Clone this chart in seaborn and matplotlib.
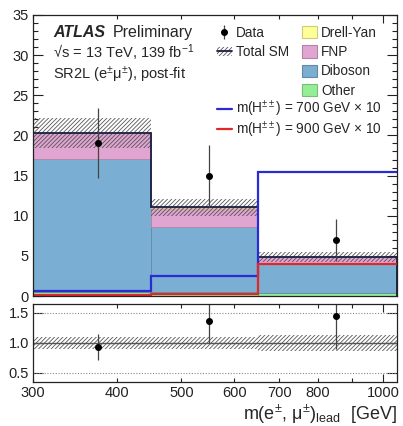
import numpy as np
import pandas as pd
import matplotlib
matplotlib.use('Agg')
import matplotlib.pyplot as plt
import seaborn as sns
from matplotlib.patches import Patch
from matplotlib.lines import Line2D
from matplotlib.ticker import FixedLocator, FixedFormatter, MultipleLocator, NullFormatter

sns.set_theme(style='ticks')
plt.rcParams['font.family'] = ['Liberation Sans', 'DejaVu Sans']
plt.rcParams['mathtext.fontset'] = 'custom'
plt.rcParams['mathtext.rm'] = 'Liberation Sans'
plt.rcParams['mathtext.it'] = 'Liberation Sans:italic'
plt.rcParams['mathtext.bf'] = 'Liberation Sans:bold'
plt.rcParams['hatch.linewidth'] = 0.6

# --- values ---
bin_edges = [300, 450, 650, 1050]
bin_centres = [375, 550, 850]
processes = ['Drell-Yan', 'FNP', 'Diboson', 'Other']
drell_yan = [0.05, 0.04, 0.02]
fnp = [3.15, 2.4, 0.83]
diboson = [16.55, 8.1, 3.65]
other = [0.55, 0.5, 0.35]
sm_unc = [1.9, 1.1, 0.65]
data = [19, 15, 7]
data_unc = [4.36, 3.87, 2.65]
sig_700 = [0.65, 2.5, 15.4]
sig_900 = [0.08, 0.25, 4.0]
x_tick_values = [300, 400, 500, 600, 700, 800, 900]
x_tick_labels = ['300', '400', '500', '600', '700', '800', '']

colours = {'Drell-Yan': '#ffff99', 'FNP': '#e1a5d2', 'Diboson': '#7aaed2', 'Other': '#95ee95'}
sm_col = '#1c1c44'
hatch_col = '#555555'
blue = '#2b2bd6'
red = '#e02828'

df = pd.DataFrame({'mass': bin_centres * 4,
                   'yield': drell_yan + fnp + diboson + other,
                   'process': np.repeat(processes, 3)})

fig = plt.figure(figsize=(4.03, 4.26), dpi=100)
ax = fig.add_axes([33/403, 1-296/426, 364/403, 281/426])
rax = fig.add_axes([33/403, 1-382/426, 364/403, 78/426])

sns.histplot(data=df, x='mass', weights='yield', hue='process', hue_order=processes,
             multiple='stack', bins=bin_edges, palette=colours, alpha=1,
             linewidth=0.6, legend=False, ax=ax)
for p in ax.patches:
    r, g, b, a = p.get_facecolor()
    p.set_edgecolor((r*0.8, g*0.8, b*0.8, 1))

edges = np.array(bin_edges)
widths = np.diff(edges)
total = np.sum([drell_yan, fnp, diboson, other], axis=0)
unc = np.array(sm_unc)

hatch = '////////'
ax.bar(edges[:-1], 2*unc, width=widths, bottom=total-unc, align='edge', fill=False,
       hatch=hatch, edgecolor=hatch_col, linewidth=0)
ax.stairs(total, edges, baseline=0, color=sm_col, lw=1.3)
ax.stairs(sig_700, edges, baseline=None, color=blue, lw=1.6)
ax.stairs(sig_900, edges, baseline=None, color=red, lw=1.6)
data_h = ax.errorbar(bin_centres, data, yerr=data_unc, fmt='o', color='black', ms=4,
                     ecolor='#444444', elinewidth=0.9, capsize=0)

# ratio panel
ratio = np.array(data) / total
ratio_unc = np.array(data_unc) / total
rel_unc = unc / total
rax.bar(edges[:-1], 2*rel_unc, width=widths, bottom=1-rel_unc, align='edge', fill=False,
        hatch=hatch, edgecolor=hatch_col, linewidth=0)
rax.axhline(1.0, color='#555555', lw=1)
for yv in (0.5, 1.5):
    rax.axhline(yv, color='#888888', lw=0.8, ls=(0, (1, 1.5)))
rax.errorbar(bin_centres, ratio, yerr=ratio_unc, fmt='o', color='black', ms=4,
             ecolor='#444444', elinewidth=0.9, capsize=0)

for a in (ax, rax):
    a.set_xscale('log')
    a.set_xlim(300, 1050)
    a.xaxis.set_major_locator(FixedLocator([1000]))
    a.xaxis.set_minor_locator(FixedLocator(x_tick_values))
    a.tick_params(which='both', direction='in', top=True, right=True, colors='#222222',
                  labelsize=10.5, width=0.8, pad=3)
    a.tick_params(axis='x', which='major', length=6)
    a.tick_params(axis='x', which='minor', length=3)
    a.tick_params(axis='y', which='major', length=7)
    a.tick_params(axis='y', which='minor', length=3.5)
    for s in a.spines.values():
        s.set_color('#222222')
        s.set_linewidth(0.9)
    a.set_ylabel('')
    a.set_xlabel('')

ax.set_ylim(0, 35)
ax.yaxis.set_major_locator(MultipleLocator(5))
ax.yaxis.set_minor_locator(MultipleLocator(1))
ax.tick_params(which='both', labelbottom=False)
ax.xaxis.set_major_formatter(NullFormatter())
ax.xaxis.set_minor_formatter(NullFormatter())

rax.set_ylim(0.35, 1.65)
rax.yaxis.set_major_locator(FixedLocator([0.5, 1.0, 1.5]))
rax.yaxis.set_major_formatter(FixedFormatter(['0.5', '1.0', '1.5']))
rax.xaxis.set_major_formatter(FixedFormatter(['1000']))
rax.xaxis.set_minor_formatter(FixedFormatter(x_tick_labels))
rax.set_xlabel('m(e$^{\\pm}$, μ$^{\\pm}$)$_{\\mathregular{lead}}$  [GeV]', loc='right',
               fontsize=13, labelpad=2)

# labels
fs = 11.5
fig.text(53/403, 1-37/426, 'ATLAS', fontsize=fs, fontweight='bold', fontstyle='italic', va='baseline')
fig.text(113/403, 1-37/426, 'Preliminary', fontsize=fs, va='baseline')
fig.text(53/403, 1-58/426, '√s = 13 TeV, 139 fb$^{-1}$', fontsize=10.5, va='baseline')
fig.text(53/403, 1-79/426, 'SR2L (e$^{\\pm}$μ$^{\\pm}$), post-fit', fontsize=10.5, va='baseline')

# legends
lfs = 9.8
common = dict(loc='upper left', bbox_transform=fig.transFigure, frameon=False, borderpad=0,
              borderaxespad=0, handlelength=1.1, handletextpad=0.3, fontsize=lfs)
sm_h = (Patch(facecolor='white', edgecolor=hatch_col, hatch=hatch, lw=0),
        Line2D([], [], color=sm_col, lw=1.3))
leg1 = ax.legend([data_h, sm_h], ['Data', 'Total SM'], bbox_to_anchor=(217/403, 1-26/426),
                 labelspacing=0.38, **common)
ax.add_artist(leg1)
leg3 = ax.legend([Line2D([], [], color=blue, lw=1.6), Line2D([], [], color=red, lw=1.6)],
                 ['m(H$^{\\pm\\pm}$) = 700 GeV × 10', 'm(H$^{\\pm\\pm}$) = 900 GeV × 10'],
                 bbox_to_anchor=(217/403, 1-99/426), labelspacing=0.0, **common)
ax.add_artist(leg3)
right_handles = []
for name in processes:
    r, g, b = matplotlib.colors.to_rgb(colours[name])
    right_handles.append(Patch(facecolor=colours[name], edgecolor=(r*0.8, g*0.8, b*0.8), lw=0.8))
ax.legend(right_handles, processes, bbox_to_anchor=(302/403, 1-26/426),
          handleheight=1.0, labelspacing=0.38, **common)

fig.savefig('out.png', dpi=100)
